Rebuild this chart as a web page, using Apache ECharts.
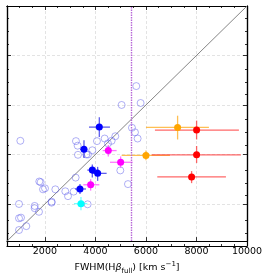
<!DOCTYPE html>
<html><head><meta charset="utf-8">
<script src="https://cdn.jsdelivr.net/npm/echarts@6/dist/echarts.min.js"></script>
<style>html,body{margin:0;padding:0;background:#fff}#c{width:268px;height:280px}</style>
</head><body><div id="c"></div>
<script>
// axis settings (values)
const axisMin = 500, axisMax = 10000;
const majorTicks = [2000, 4000, 6000, 8000, 10000];
const minorTicks = [1000, 1500, 2500, 3000, 3500, 4500, 5000, 5500, 6500, 7000, 7500, 8500, 9000, 9500];
const diagonal = [500, 10000];
const cutLine = 5420;

// open circles [x, y]
const openPts = [
  [1028, 4553], [975, 2000], [975, 1421], [1054, 1448], [975, 947], [1265, 1105],
  [1595, 1921], [1595, 1829], [1766, 1684], [1779, 2908], [1832, 2882], [1925, 2592],
  [2004, 2632], [2267, 2092], [2267, 2053], [2413, 2592], [2808, 2513], [2914, 2316],
  [3138, 2500], [3217, 3066], [3230, 4540], [3296, 4356], [3309, 3987], [3639, 4000],
  [3705, 4000], [3692, 1987], [3877, 4171], [4061, 4540], [4365, 4645], [4497, 4448],
  [4642, 4553], [4787, 4737], [4985, 3356], [5037, 6001], [5288, 2803], [5446, 5080],
  [5565, 4895], [5617, 6764], [5670, 4645], [5789, 6080]
];

// filled points with error ranges [x, y, xlo, xhi, ylo, yhi]
const bluePts = [
  [4154, 5106, 3745, 4576, 4711, 5501],
  [3547, 4211, 3389, 3678, 3856, 4580],
  [3877, 3369, 3679, 4127, 3066, 3592],
  [4088, 3237, 3850, 4444, 2935, 3500],
  [3389, 2606, 3191, 3626, 2408, 2803]
];
const magentaPts = [
  [4510, 4158, 4286, 4839, 3921, 4382],
  [4998, 3685, 4576, 5473, 3461, 3921],
  [3811, 2777, 3520, 4154, 2540, 3000]
];
const cyanPts = [
  [3428, 2013, 3151, 3679, 1750, 2277]
];
const orangePts = [
  [7253, 5093, 6000, 8493, 4606, 5567],
  [6000, 3961, 5037, 6950, 3764, 4158]
];
const redPts = [
  [8005, 4988, 6356, 9680, 4606, 5369],
  [8005, 3987, 6224, 9759, 3658, 4343],
  [7807, 3093, 6449, 9166, 2842, 3329]
];

const FONT = 'DejaVu Sans';

function errSeries(data, color) {
  return {
    type: 'custom', xAxisIndex: 0, yAxisIndex: 0, z: 3, clip: true,
    encode: { x: 0, y: 1 },
    data: data,
    renderItem: function (params, api) {
      const x = api.value(0), y = api.value(1);
      const a = api.coord([api.value(2), y]), b = api.coord([api.value(3), y]);
      const c = api.coord([x, api.value(4)]), d = api.coord([x, api.value(5)]);
      const st = { stroke: color, lineWidth: 1.3 };
      return { type: 'group', children: [
        { type: 'line', shape: { x1: a[0], y1: a[1], x2: b[0], y2: b[1] }, style: st },
        { type: 'line', shape: { x1: c[0], y1: c[1], x2: d[0], y2: d[1] }, style: st }
      ] };
    }
  };
}
function ptSeries(data, color) {
  return {
    type: 'scatter', xAxisIndex: 0, yAxisIndex: 0, z: 4,
    data: data.map(p => [p[0], p[1]]),
    symbol: 'circle', symbolSize: 7,
    itemStyle: { color: color, opacity: 1 },
    silent: true
  };
}

function mkAxis(grid, pos, ticks, len, labels, split, extra) {
  return Object.assign({
    type: 'value', gridIndex: grid, position: pos, min: axisMin, max: axisMax,
    axisLine: { show: true, onZero: false, lineStyle: { color: '#000', width: 1.2 } },
    axisTick: { show: true, inside: true, length: len, customValues: ticks, lineStyle: { color: '#000', width: 0.8 } },
    axisLabel: labels ? { show: true, customValues: ticks, color: '#000', fontSize: 9.5, fontFamily: FONT, margin: 5, formatter: v => String(v) } : { show: false },
    splitLine: split ? { show: true, lineStyle: { type: [3, 2], color: '#dcdcdc', width: 0.8 } } : { show: false }
  }, extra || {});
}

const chart = echarts.init(document.getElementById('c'), null, { renderer: 'canvas' });
const gridRect = { left: 7, top: 6, width: 240, height: 240 };
chart.setOption({
  animation: false,
  backgroundColor: '#fff',
  grid: [Object.assign({ containLabel: false }, gridRect), Object.assign({ containLabel: false }, gridRect)],
  xAxis: [
    mkAxis(0, 'bottom', majorTicks, 4, true, true, {
      name: 'FWHM(H{it|β}{sub|full}) [km s{sup|−1}]',
      nameLocation: 'middle', nameGap: 19,
      nameTextStyle: {
        color: '#000', fontSize: 9.5, fontFamily: FONT, lineHeight: 14,
        rich: {
          it: { fontStyle: 'italic', fontSize: 9.5, fontFamily: FONT, color: '#000', lineHeight: 14 },
          sub: { fontSize: 7, fontFamily: FONT, color: '#000', lineHeight: 8, verticalAlign: 'bottom' },
          sup: { fontSize: 7, fontFamily: FONT, color: '#000', lineHeight: 8, verticalAlign: 'top' }
        }
      }
    }),
    mkAxis(0, 'top', majorTicks, 4, false, false),
    mkAxis(1, 'bottom', minorTicks, 2, false, false),
    mkAxis(1, 'top', minorTicks, 2, false, false)
  ],
  yAxis: [
    mkAxis(0, 'left', majorTicks, 4, false, true),
    mkAxis(0, 'right', majorTicks, 4, false, false),
    mkAxis(1, 'left', minorTicks, 2, false, false),
    mkAxis(1, 'right', minorTicks, 2, false, false)
  ],
  series: [
    {
      type: 'line', xAxisIndex: 0, yAxisIndex: 0, z: 2,
      data: [[diagonal[0], diagonal[0]], [diagonal[1], diagonal[1]]],
      symbol: 'none', lineStyle: { color: '#777', width: 0.9 }, silent: true,
      markLine: {
        silent: true, symbol: 'none', label: { show: false },
        lineStyle: { color: '#b868d8', type: [1.5, 1], width: 1.4, opacity: 1 },
        data: [{ xAxis: cutLine }]
      }
    },
    {
      type: 'scatter', xAxisIndex: 0, yAxisIndex: 0, z: 2,
      data: openPts, symbol: 'circle', symbolSize: 7,
      itemStyle: { color: 'rgba(0,0,0,0)', borderColor: 'rgba(90,90,235,0.6)', borderWidth: 1 },
      silent: true
    },
    errSeries(bluePts, 'rgba(40,40,230,0.75)'),
    errSeries(magentaPts, 'rgba(255,60,255,0.7)'),
    errSeries(cyanPts, 'rgba(60,255,255,0.7)'),
    errSeries(orangePts, 'rgba(255,175,40,0.8)'),
    errSeries(redPts, 'rgba(255,40,40,0.7)'),
    ptSeries(bluePts, '#0000ff'),
    ptSeries(magentaPts, '#ff00ff'),
    ptSeries(cyanPts, '#00ffff'),
    ptSeries(orangePts, '#ffa500'),
    ptSeries(redPts, '#ff0000')
  ]
});
</script>
</body></html>
